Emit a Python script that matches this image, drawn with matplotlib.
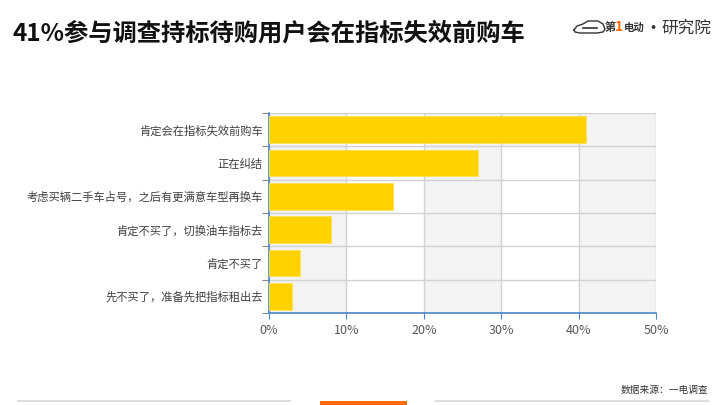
import matplotlib
matplotlib.use("Agg")
import matplotlib.pyplot as plt
from matplotlib.patches import Rectangle
from matplotlib.ticker import FuncFormatter, MultipleLocator

plt.rcParams['font.family'] = ['Noto Sans CJK SC', 'DejaVu Sans']

title = "41%参与调查持标待购用户会在指标失效前购车"
categories = [
    "肯定会在指标失效前购车",
    "正在纠结",
    "考虑买辆二手车占号，之后有更满意车型再换车",
    "肯定不买了，切换油车指标去",
    "肯定不买了",
    "先不买了，准备先把指标租出去",
]
values = [41, 27, 16, 8, 4, 3]
source = "数据来源：一电调查"

W, H = 720, 405


def fx(px):
    return px / W


def fy(py):
    return 1 - py / H


fig = plt.figure(figsize=(7.2, 4.05), dpi=100)
ax = fig.add_axes([0.3736, 0.227, 0.5375, 0.494])

n = len(categories)
ypos = list(range(n))[::-1]

# alternating column bands
for i, x0 in enumerate(range(0, 50, 10)):
    if i % 2 == 0:
        ax.axvspan(x0, x0 + 10, color="#f3f3f3", zorder=0, lw=0)
ax.axhspan(n - 1.5, n - 0.5, xmin=0.6, xmax=0.8, color="#f3f3f3", zorder=0, lw=0)

ax.barh(ypos, values, height=0.8, color="#ffd200", edgecolor="#ffe04d",
        linewidth=0.6, zorder=3)

ax.set_xlim(0, 50)
ax.set_ylim(-0.5, n - 0.5)
ax.xaxis.set_major_locator(MultipleLocator(10))
ax.xaxis.set_major_formatter(FuncFormatter(lambda v, p: f"{v:.0f}%"))
ax.set_yticks(ypos)
ax.set_yticklabels(categories)
ax.tick_params(axis="y", length=0, labelsize=8.15, labelcolor="#404040", pad=4.5)
ax.tick_params(axis="x", length=4, color="#4a86c5", labelsize=9,
               labelcolor="#595959", pad=4)

# grid lines
ax.set_yticks([i - 0.5 for i in range(n + 1)], minor=True)
ax.tick_params(axis="y", which="minor", length=5, color="#888888", width=0.8)
ax.grid(axis="x", color="#d2d2d2", lw=1, zorder=1)
ax.grid(axis="y", which="minor", color="#d2d2d2", lw=1, zorder=1)
ax.set_axisbelow(True)

for s in ["top", "right"]:
    ax.spines[s].set_visible(False)
for s in ["left", "bottom"]:
    ax.spines[s].set_color("#4a86c5")
    ax.spines[s].set_linewidth(1.2)

# header
fig.text(fx(13), fy(34), title, fontsize=17.5, fontweight="bold",
         color="#111111", va="center", ha="left")

# logo: car outline + text
car_x = [574, 577, 583, 588, 598, 603, 605, 603, 597, 580, 575, 574]
car_y = [30, 26, 24, 21, 21, 24, 29, 32, 33, 33, 32, 30]
fig.add_artist(plt.Line2D([fx(v) for v in car_x], [fy(v) for v in car_y],
                          color="#333333", lw=1.0))
fig.add_artist(plt.Line2D([fx(583), fx(597)], [fy(28), fy(28)],
                          color="#333333", lw=1.2))
fig.text(fx(605), fy(28), "第", fontsize=8, fontweight="bold",
         color="#333333", va="center", ha="left", style="italic")
fig.text(fx(615), fy(27), "1", fontsize=10, fontweight="bold",
         color="#ff6a00", va="center", ha="left", style="italic")
fig.text(fx(624), fy(28), "电动", fontsize=7.5, fontweight="bold",
         color="#333333", va="center", ha="left", style="italic")
fig.text(fx(653), fy(28), "·", fontsize=11, fontweight="bold",
         color="#333333", va="center", ha="center")
fig.text(fx(661), fy(28), "研究院", fontsize=12, fontweight="light",
         color="#333333", va="center", ha="left")

# footer
fig.text(fx(708), fy(390), source, fontsize=7, style="italic",
         color="#333333", va="center", ha="right")
fig.add_artist(plt.Line2D([fx(18), fx(290)], [fy(401)] * 2,
                          color="#d9d9d9", lw=1.2))
fig.add_artist(plt.Line2D([fx(436), fx(708)], [fy(401)] * 2,
                          color="#d9d9d9", lw=1.2))
fig.add_artist(Rectangle((fx(320), 0), 87 / W, 4.5 / H,
                         transform=fig.transFigure, color="#ff6a00", lw=0))

fig.savefig("out.png", dpi=100)
